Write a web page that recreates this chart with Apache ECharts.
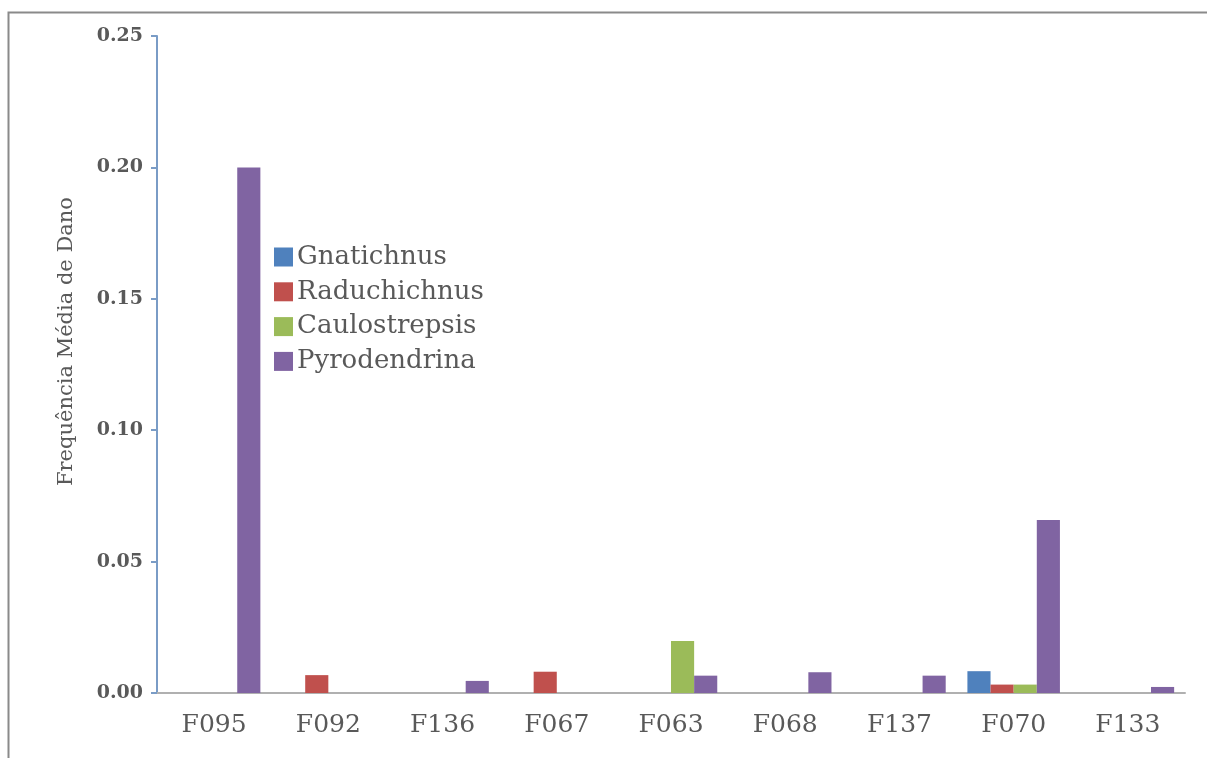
<!DOCTYPE html>
<html><head><meta charset="utf-8">
<script src="https://cdn.jsdelivr.net/npm/echarts@6/dist/echarts.min.js"></script>
<style>html,body{margin:0;padding:0;background:#fff}#c{width:1207px;height:758px}</style>
</head><body><div id="c"></div>
<script>
const categories = ['F095','F092','F136','F067','F063','F068','F137','F070','F133'];
const gnatichnus   = [0, 0, 0, 0, 0, 0, 0, 0.0083, 0];
const raduchichnus = [0, 0.0068, 0, 0.0081, 0, 0, 0, 0.0032, 0];
const caulostrepsis= [0, 0, 0, 0, 0.0198, 0, 0, 0.0032, 0];
const pyrodendrina = [0.2, 0, 0.0046, 0, 0.0066, 0.0079, 0.0066, 0.0658, 0.0023];
const yTicks = [0, 0.05, 0.10, 0.15, 0.20, 0.25];

const font = 'DejaVu Serif';
const txt = '#595959';
const chart = echarts.init(document.getElementById('c'));
const mk = (name, data, color) => ({name, type:'bar', data, barGap:'0%', barCategoryGap:'19%', itemStyle:{color}});
chart.setOption({
  animation:false,
  graphic:[{type:'rect', shape:{x:8.5,y:12.5,width:1400,height:1000}, style:{fill:'none', stroke:'#8a8a8a', lineWidth:2}}],
  grid:{left:157, top:36, right:22, bottom:65},
  legend:{orient:'vertical', left:274, top:244, padding:0, itemWidth:19, itemHeight:19, itemGap:8.8,
    icon:'rect', textStyle:{fontFamily:font, fontSize:26, lineHeight:26, color:txt, padding:[0,0,0,-1]},
    data:['Gnatichnus','Raduchichnus','Caulostrepsis','Pyrodendrina']},
  xAxis:{type:'category', data:categories,
    axisLine:{lineStyle:{color:'#b0b0b0', width:2}}, axisTick:{show:false},
    axisLabel:{fontFamily:font, fontSize:25, color:txt, margin:20}},
  yAxis:{type:'value', min:0, max:0.25, interval:0.05,
    name:'Frequência Média de Dano', nameLocation:'middle', nameGap:80,
    nameTextStyle:{fontFamily:font, fontSize:21, color:txt, padding:[0,0,0,46]},
    axisLine:{show:true, lineStyle:{color:'#7a9cc6', width:2}},
    axisTick:{show:true, length:6, lineStyle:{color:'#7a9cc6', width:2}},
    splitLine:{show:false},
    axisLabel:{fontFamily:font, fontSize:19, color:txt, fontWeight:'bold', margin:14,
      formatter:v=>v.toFixed(2)}},
  series:[
    mk('Gnatichnus', gnatichnus, '#4f81bd'),
    mk('Raduchichnus', raduchichnus, '#c0504d'),
    mk('Caulostrepsis', caulostrepsis, '#9bbb59'),
    mk('Pyrodendrina', pyrodendrina, '#8064a2')
  ]
});
</script></body></html>
